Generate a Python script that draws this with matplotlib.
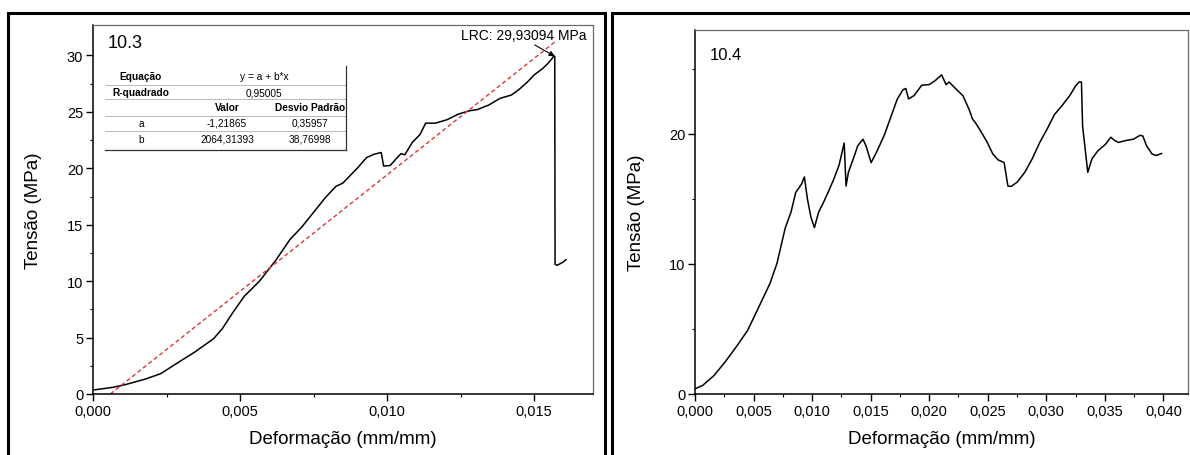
import numpy as np
import matplotlib.pyplot as plt
from matplotlib.patches import Rectangle
from matplotlib.lines import Line2D

plt.rcParams['font.family'] = ['Liberation Sans', 'DejaVu Sans']

# ---- data ----
strain_103 = [0.0, 0.0007, 0.0011, 0.0018, 0.0023, 0.0029, 0.00345, 0.0041, 0.0044,
              0.00475, 0.00514, 0.00566, 0.0062, 0.0067, 0.0071, 0.0079, 0.00826, 0.0085,
              0.0090, 0.0093, 0.00956, 0.0098, 0.00988, 0.0101, 0.01047, 0.0106, 0.01086,
              0.01112, 0.01131, 0.01164, 0.01203, 0.01242, 0.0128, 0.01306, 0.01345,
              0.01384, 0.01423, 0.01449, 0.01475, 0.01501, 0.01527, 0.01547, 0.0156,
              0.01566, 0.0157, 0.01571, 0.01578, 0.01599, 0.01608]
stress_103 = [0.35, 0.6, 0.83, 1.34, 1.8, 2.8, 3.7, 4.9, 5.8,
              7.2, 8.65, 10.0, 11.8, 13.7, 14.8, 17.4, 18.4, 18.7,
              20.05, 20.95, 21.25, 21.4, 20.2, 20.25, 21.3, 21.2, 22.3,
              23.0, 24.0, 24.0, 24.3, 24.8, 25.1, 25.2, 25.6,
              26.2, 26.5, 27.0, 27.6, 28.3, 28.8, 29.3, 29.7,
              29.93, 29.93, 11.5, 11.4, 11.7, 11.9]

strain_104 = [0.0, 0.00064, 0.0016, 0.00256, 0.0035, 0.0045, 0.0054, 0.0064, 0.0070,
              0.0077, 0.0082, 0.0086, 0.0091, 0.00934, 0.0096, 0.0099, 0.0102, 0.01056,
              0.0109, 0.01136, 0.01184, 0.0123, 0.01274, 0.0129, 0.0131, 0.0136, 0.0139,
              0.01434, 0.0146, 0.01504, 0.0155, 0.01616, 0.0168, 0.01728, 0.01776, 0.018,
              0.01824, 0.0187, 0.01936, 0.0200, 0.0205, 0.02106, 0.02144, 0.0217, 0.02224,
              0.02288, 0.0234, 0.0237, 0.024, 0.02448, 0.02496, 0.02544, 0.0259, 0.0264,
              0.02672, 0.027, 0.02752, 0.02816, 0.0288, 0.02944, 0.03008, 0.0307, 0.03136,
              0.032, 0.0325, 0.0328, 0.033, 0.0331, 0.03354, 0.0339, 0.0344, 0.03504,
              0.03552, 0.03584, 0.03616, 0.0368, 0.03744, 0.038, 0.03824, 0.03856, 0.03904,
              0.0394, 0.03984]
stress_104 = [0.4, 0.65, 1.4, 2.45, 3.6, 4.9, 6.6, 8.5, 10.05,
              12.75, 14.0, 15.5, 16.15, 16.7, 15.0, 13.6, 12.8, 14.0,
              14.6, 15.5, 16.5, 17.6, 19.3, 16.0, 17.05, 18.3, 19.1,
              19.6, 19.1, 17.8, 18.6, 19.9, 21.5, 22.7, 23.4, 23.5,
              22.7, 22.95, 23.75, 23.8, 24.1, 24.55, 23.8, 24.0, 23.5,
              22.95, 21.9, 21.15, 20.8, 20.1, 19.35, 18.45, 18.0, 17.8,
              16.0, 15.97, 16.3, 17.05, 18.1, 19.35, 20.4, 21.5, 22.2,
              22.95, 23.7, 24.0, 24.0, 20.6, 17.05, 18.1, 18.7, 19.2,
              19.75, 19.5, 19.35, 19.5, 19.6, 19.9, 19.85, 19.1, 18.45,
              18.35, 18.5]

fit_a, fit_b = -1.21865, 2064.31393
fit_range = [0.00059, 0.0157]
lrc_point = (0.0157, 29.93)

table_rows = [
    ["Equação", "y = a + b*x", ""],
    ["R-quadrado", "0,95005", ""],
    ["", "Valor", "Desvio Padrão"],
    ["a", "-1,21865", "0,35957"],
    ["b", "2064,31393", "38,76998"],
]

x_ticks_103 = [0.0, 0.005, 0.010, 0.015]
x_labels_103 = ["0,000", "0,005", "0,010", "0,015"]
y_ticks_103 = [0, 5, 10, 15, 20, 25, 30]
x_ticks_104 = [0.0, 0.005, 0.010, 0.015, 0.020, 0.025, 0.030, 0.035, 0.040]
x_labels_104 = ["0,000", "0,005", "0,010", "0,015", "0,020", "0,025", "0,030", "0,035", "0,040"]
y_ticks_104 = [0, 10, 20]

# ---- layout (pixel helpers) ----
W, H = 1190, 456
fig = plt.figure(figsize=(W / 100, H / 100), dpi=100)


def fx(x):
    return x / W


def fy(y):
    return 1 - y / H


ax1 = fig.add_axes([fx(93), fy(395), fx(593) - fx(93), fy(26) - fy(395)])
ax2 = fig.add_axes([fx(695), fy(395), fx(1188) - fx(695), fy(31) - fy(395)])

# outer panel frames
for x0, x1 in [(8, 605), (612, 1200)]:
    fig.add_artist(Rectangle((fx(x0), fy(480)), fx(x1) - fx(x0), fy(14) - fy(480),
                             transform=fig.transFigure, fill=False, lw=2.2,
                             ec='black', clip_on=False))


def style(ax):
    for s in ['left', 'bottom']:
        ax.spines[s].set_color('black')
        ax.spines[s].set_linewidth(1.1)
    for s in ['top', 'right']:
        ax.spines[s].set_color('#6a6a6a')
        ax.spines[s].set_linewidth(0.9)
    ax.tick_params(direction='out', length=5, width=1, labelsize=10.5, pad=2)
    ax.tick_params(which='minor', direction='out', length=2.5, width=0.8)
    ax.set_xlabel('Deformação (mm/mm)', fontsize=13.5)
    ax.set_ylabel('Tensão (MPa)', fontsize=13.5)


# ---- 10.3 ----
ax1.plot(strain_103, stress_103, color='black', lw=1.1)
fx_line = np.array(fit_range)
ax1.plot(fx_line, fit_a + fit_b * fx_line, color='#d83a3a', lw=1.0, ls=(0, (3, 2)))
ax1.set_xlim(0, 0.017)
ax1.set_ylim(0, 32.7)
ax1.set_xticks(x_ticks_103)
ax1.set_xticklabels(x_labels_103)
ax1.set_xticks([0.0025, 0.0075, 0.0125], minor=True)
ax1.set_yticks(y_ticks_103)
ax1.set_yticks(np.arange(2.5, 32.5, 5), minor=True)
style(ax1)
ax1.xaxis.set_label_coords(0.5, -0.098)
ax1.yaxis.set_label_coords(-0.102, 0.5)
ax1.text(fx(108), fy(44), '10.3', transform=fig.transFigure, fontsize=13, va='center')
ax1.annotate('LRC: 29,93094 MPa', xy=lrc_point, xytext=(0.01697 - 0.0002, 31.8),
             ha='right', va='center', fontsize=10,
             arrowprops=dict(arrowstyle='-|>', color='black', lw=0.8,
                             shrinkA=0, shrinkB=0, mutation_scale=8,
                             relpos=(0.55, 0.0)))

# fit table
col_x = [141, 227, 310]
row_y = [77, 93, 108, 124, 140]
bold_cells = {(0, 0), (1, 0), (2, 1), (2, 2)}
for r, row in enumerate(table_rows):
    for c, txt in enumerate(row):
        if not txt:
            continue
        x = col_x[c]
        if r < 2 and c == 1:
            x = 264
        fig.text(fx(x), fy(row_y[r]), txt, ha='center', va='center', fontsize=7.3,
                 fontweight='bold' if (r, c) in bold_cells else 'normal')
for yl in [86, 100, 117, 132]:
    fig.add_artist(Line2D([fx(105), fx(346)], [fy(yl), fy(yl)], transform=fig.transFigure,
                          color='#b8b8b8', lw=0.7))
fig.add_artist(Line2D([fx(105), fx(346)], [fy(151), fy(151)], transform=fig.transFigure,
                      color='#333333', lw=0.9))
fig.add_artist(Line2D([fx(346), fx(346)], [fy(67), fy(151)], transform=fig.transFigure,
                      color='#333333', lw=0.9))

# ---- 10.4 ----
ax2.plot(strain_104, stress_104, color='black', lw=1.1)
ax2.set_xlim(0, 0.0421)
ax2.set_ylim(0, 28)
ax2.set_xticks(x_ticks_104)
ax2.set_xticklabels(x_labels_104)
ax2.set_xticks(np.arange(0.0025, 0.042, 0.005), minor=True)
ax2.set_yticks(y_ticks_104)
ax2.set_yticks([5, 15, 25], minor=True)
style(ax2)
ax2.xaxis.set_label_coords(0.5, -0.099)
ax2.yaxis.set_label_coords(-0.101, 0.5)
ax2.text(fx(710), fy(55), '10.4', transform=fig.transFigure, fontsize=12, va='center')

fig.savefig('out.png', dpi=100)
